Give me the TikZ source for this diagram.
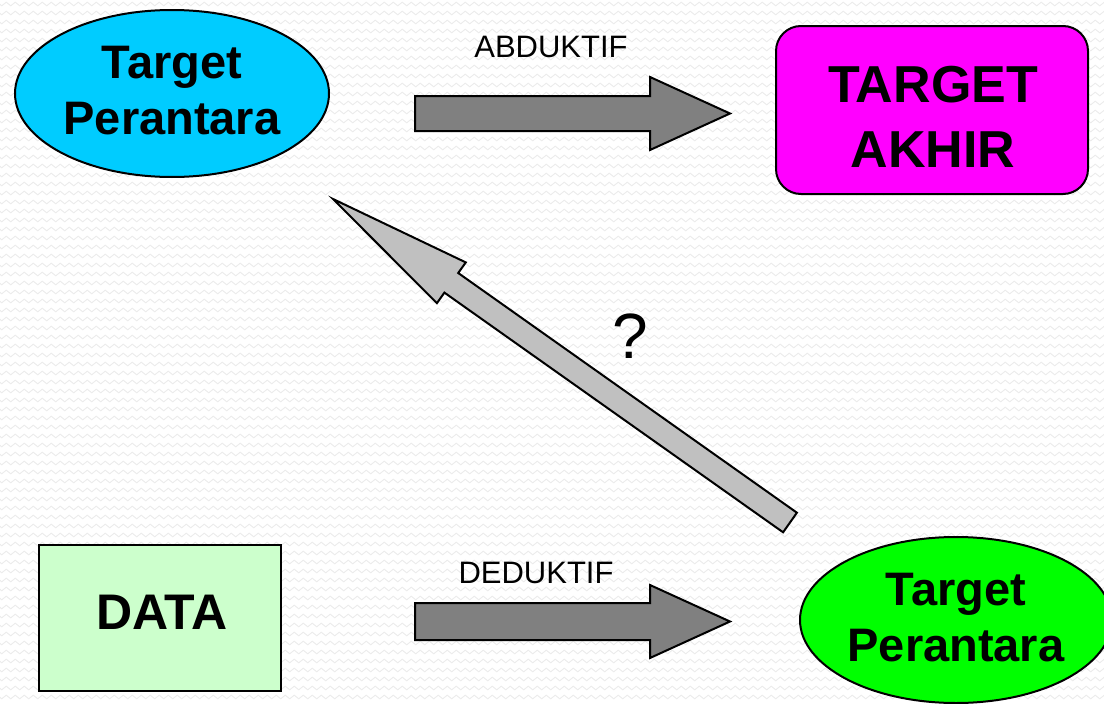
\documentclass[tikz,border=0pt]{standalone}
\usepackage{fontspec}
\setmainfont{Liberation Sans}
\usetikzlibrary{shapes.geometric,decorations.pathmorphing}
\definecolor{skyblue}{RGB}{0,204,255}
\definecolor{magentabox}{RGB}{255,0,255}
\definecolor{limegreen}{RGB}{0,255,0}
\definecolor{palegreen}{RGB}{204,255,204}
\definecolor{darkarrow}{RGB}{128,128,128}
\definecolor{lightarrow}{RGB}{192,192,192}
\definecolor{bgline}{RGB}{236,236,236}
\begin{document}
\begin{tikzpicture}[x=1pt,y=-1pt,
  shapebox/.style={draw=black, line width=2pt, inner sep=0pt},
  ellnode/.style={shapebox, ellipse, minimum width=314pt, minimum height=167pt},
  bigtext/.style={font=\bfseries\fontsize{47}{56}\selectfont, align=center, inner sep=0pt},
  hugetext/.style={font=\bfseries\fontsize{52}{65}\selectfont, align=center, inner sep=0pt},
  labeltext/.style={font=\fontsize{31}{36}\selectfont, inner sep=0pt, anchor=base},
  blockarrow/.style={draw=black, line width=2pt, line join=miter},
  bgzig/.style={draw=bgline, line width=0.9pt, decorate,
    decoration={zigzag, segment length=9pt, amplitude=1.8pt}}
]
% background
\useasboundingbox (0,0) rectangle (1104,704);
\fill[white] (0,0) rectangle (1104,704);
\foreach \yy in {4,13,...,704} {
  \draw[bgzig] (-5,\yy) -- (1110,\yy);
}
% nodes
\node[ellnode, fill=skyblue] (tpa) at (172,93.5) {};
\node[bigtext] (tpatext) at (172,90.5) {Target\\Perantara};

\node[shapebox, rectangle, rounded corners=25pt, fill=magentabox,
      minimum width=312pt, minimum height=168pt] (akhir) at (932,110) {};
\node[hugetext] (akhirtext) at (933,116.5) {TARGET\\AKHIR};

\node[shapebox, rectangle, fill=palegreen,
      minimum width=242pt, minimum height=146pt] (data) at (160,618) {};
\node[font=\bfseries\fontsize{50}{60}\selectfont, inner sep=0pt] (datatext) at (162,612) {DATA};

\node[ellnode, fill=limegreen, minimum width=312pt, minimum height=166pt] (tpb) at (956,620) {};
\node[bigtext] (tpbtext) at (956,618) {Target\\Perantara};

% block arrow ABDUKTIF
\coordinate (abA) at (415,113.5);
\coordinate (abB) at (730,113.5);
\draw[blockarrow, fill=darkarrow]
  (415,96) -- (650,96) -- (650,77) -- (abB) -- (650,150)
  -- (650,131) -- (415,131) -- cycle;
\node[labeltext] (abd) at (551,57) {ABDUKTIF};

% block arrow DEDUKTIF
\coordinate (deA) at (415,621.5);
\coordinate (deB) at (730,621.5);
\draw[blockarrow, fill=darkarrow]
  (415,603) -- (650,603) -- (650,585) -- (deB) -- (650,658)
  -- (650,640) -- (415,640) -- cycle;
\node[labeltext] (ded) at (536,583) {DEDUKTIF};

% diagonal arrow
\coordinate (qtail) at (790,522.5);
\coordinate (qtip) at (333,199);
\draw[blockarrow, fill=lightarrow]
  (796.9,512.7) -- (458.2,273.0) -- (465.8,262.4) -- (qtip)
  -- (436.9,303.2) -- (444.4,292.6) -- (783.1,532.3) -- cycle;
\node[font=\fontsize{64}{70}\selectfont, inner sep=0pt, anchor=base] (q) at (630,358) {?};
\end{tikzpicture}
\end{document}
